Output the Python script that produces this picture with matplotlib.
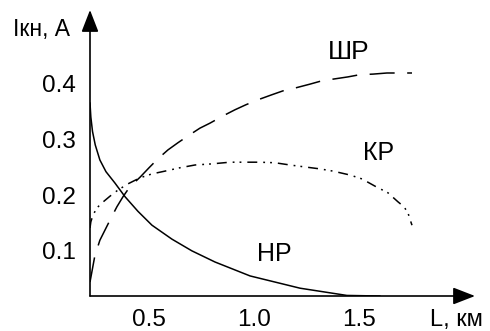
import matplotlib.pyplot as plt

plt.rcParams['font.family'] = ['Liberation Sans', 'DejaVu Sans']

# НР (сплошная)
L_hr = [0.218, 0.222, 0.230, 0.243, 0.265, 0.294, 0.336, 0.385, 0.446, 0.513, 0.608,
        0.703, 0.813, 0.980, 1.218, 1.441, 1.598]
I_hr = [0.365, 0.340, 0.314, 0.290, 0.263, 0.242, 0.222, 0.197, 0.171, 0.146, 0.121,
        0.100, 0.080, 0.055, 0.033, 0.020, 0.019]

# ШР (штриховая)
L_shr = [0.218, 0.241, 0.265, 0.289, 0.313, 0.346, 0.375, 0.408, 0.456, 0.499,
         0.541, 0.589, 0.637, 0.684, 0.741, 0.789, 0.851, 0.908, 0.960, 1.018,
         1.084, 1.137, 1.194, 1.265, 1.322, 1.375, 1.446, 1.503, 1.565, 1.632, 1.751]
I_shr = [0.044, 0.091, 0.119, 0.137, 0.155, 0.179, 0.197, 0.215, 0.232, 0.249,
         0.265, 0.281, 0.294, 0.306, 0.320, 0.329, 0.342, 0.353, 0.362, 0.371,
         0.380, 0.387, 0.392, 0.399, 0.405, 0.408, 0.412, 0.416, 0.417, 0.419, 0.419]

# КР (штрих-пунктир)
L_kr = [0.218, 0.222, 0.232, 0.251, 0.275, 0.313, 0.351, 0.398, 0.456, 0.513,
        0.575, 0.646, 0.718, 0.799, 0.884, 0.956, 1.027, 1.099, 1.170, 1.251,
        1.313, 1.375, 1.456, 1.513, 1.575, 1.637, 1.684, 1.713, 1.732, 1.741, 1.751]
I_kr = [0.141, 0.152, 0.164, 0.177, 0.186, 0.198, 0.209, 0.220, 0.231, 0.238,
        0.243, 0.249, 0.254, 0.256, 0.259, 0.259, 0.259, 0.258, 0.254, 0.250,
        0.247, 0.243, 0.236, 0.229, 0.216, 0.204, 0.188, 0.179, 0.168, 0.157, 0.146]

x_ticks = [0.5, 1.0, 1.5]
x_tick_labels = ['0.5', '1.0', '1.5']
y_ticks = [0.1, 0.2, 0.3, 0.4]
y_tick_labels = ['0.1', '0.2', '0.3', '0.4']

fig = plt.figure(figsize=(4.9, 3.31), dpi=100)
ax = fig.add_axes([90 / 490, 35 / 331, 385 / 490, 286 / 331])
ax.set_xlim(0.218, 2.051)
ax.set_ylim(0.019, 0.532)

lw = 1.1
ax.plot(L_hr, I_hr, color='black', lw=lw, solid_joinstyle='round')
ax.plot(L_shr, I_shr, color='black', lw=lw, linestyle=(0, (16.4, 8.2)))
ax.plot(L_kr, I_kr, color='black', lw=lw,
        linestyle=(0, (6.5, 3.9, 1.2, 3.3, 1.2, 3.9)))

# оси со стрелками
for s in ax.spines.values():
    s.set_visible(False)
arrow = dict(arrowstyle='-|>,head_length=0.9,head_width=0.35', mutation_scale=15,
             lw=1.2, color='black', shrinkA=0, shrinkB=0)
ax.annotate('', xy=(1, 0), xytext=(0, 0), xycoords='axes fraction', arrowprops=arrow)
ax.annotate('', xy=(0, 1), xytext=(0, 0), xycoords='axes fraction', arrowprops=arrow)

ax.set_xticks(x_ticks)
ax.set_xticklabels(x_tick_labels)
ax.set_yticks(y_ticks)
ax.set_yticklabels(y_tick_labels)
ax.tick_params(length=0, labelsize=17.5)
ax.tick_params(axis='x', pad=9)
ax.tick_params(axis='y', pad=10)

ax.text(1.452, 0.457, 'ШР', fontsize=19, ha='center', va='center')
ax.text(1.594, 0.276, 'КР', fontsize=18, ha='center', va='center')
ax.text(1.094, 0.094, 'НР', fontsize=18, ha='center', va='center')

fig.text(13 / 490, 1 - 36 / 331, 'Iкн, А', fontsize=16.5, ha='left', va='baseline')
fig.text(430 / 490, 1 - 326 / 331, 'L, км', fontsize=17, ha='left', va='baseline')

fig.savefig('out.png', dpi=100)
